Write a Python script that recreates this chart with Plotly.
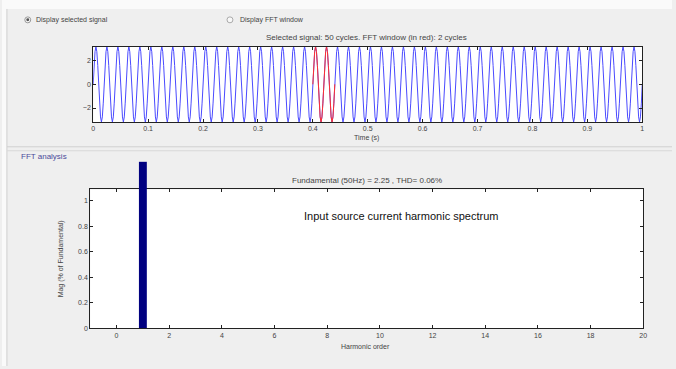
import numpy as np
import plotly.graph_objects as go

W, H = 676, 369

# ---------------- data ----------------
# One cycle of the selected signal (peak = 2.25 A rms * sqrt(2) ~ 3.18), 12 samples per cycle
one_cycle = [0, 1.59, 2.75, 3.18, 2.75, 1.59, 0, -1.59, -2.75, -3.18, -2.75, -1.59]
n_cycles = 50
sim_time_s = 1.0
fft_window = [0.40, 0.44]          # 2 cycles, drawn in red

time_ticks = [0, 0.1, 0.2, 0.3, 0.4, 0.5, 0.6, 0.7, 0.8, 0.9, 1]
time_ticklabels = ["0", "0.1", "0.2", "0.3", "0.4", "0.5", "0.6", "0.7", "0.8", "0.9", "1"]
signal_yticks = [-2, 0, 2]

harmonic_order = list(range(0, 21))
# magnitude as displayed (fundamental bar runs off the top of the axes)
harmonic_mag = [0, 1.31] + [0] * 19
harm_ticks = [0, 2, 4, 6, 8, 10, 12, 14, 16, 18, 20]
mag_ticks = [0, 0.2, 0.4, 0.6, 0.8, 1]
mag_ticklabels = ["0", "0.2", "0.4", "0.6", "0.8", "1"]

title_top = "Selected signal: 50 cycles. FFT window (in red): 2 cycles"
title_bot = "Fundamental (50Hz) = 2.25 , THD= 0.06%"
inner_label = "Input source current harmonic spectrum"

# ---------------- build series ----------------
signal = np.append(np.tile(one_cycle, n_cycles), one_cycle[0])
t = np.linspace(0, sim_time_s, len(signal))
mask = (t >= fft_window[0] - 1e-9) & (t <= fft_window[1] + 1e-9)


def px(x):
    return x / W


def py(y):
    return 1 - y / H


fig = go.Figure()
fig.add_trace(go.Scatter(x=t, y=signal, mode="lines",
                         line=dict(color="#4a4aff", width=1), xaxis="x", yaxis="y",
                         hoverinfo="skip"))
fig.add_trace(go.Scatter(x=t[mask], y=signal[mask], mode="lines",
                         line=dict(color="#ff3030", width=1), xaxis="x", yaxis="y",
                         hoverinfo="skip"))
fig.add_trace(go.Bar(x=harmonic_order, y=harmonic_mag, width=0.3,
                     marker=dict(color="#000080", line=dict(width=0)),
                     xaxis="x2", yaxis="y3"))

tickfont = dict(family="Liberation Sans, Arial, sans-serif", size=7, color="#444")
axcommon = dict(showline=True, linecolor="#222", linewidth=1, mirror="ticks",
                ticks="inside", ticklen=3, tickcolor="#222", showgrid=False,
                zeroline=False, tickfont=tickfont)

top_x = [px(92), px(646)]
top_y = [py(123), py(47)]
bot_x = [px(89), px(647)]
bot_y = [py(331), py(191)]

fig.update_layout(
    width=W, height=H,
    margin=dict(l=0, r=0, t=0, b=0),
    paper_bgcolor="#efefef",
    plot_bgcolor="rgba(0,0,0,0)",
    showlegend=False,
    xaxis=dict(domain=top_x, range=[0, sim_time_s], anchor="y",
               tickvals=time_ticks, ticktext=time_ticklabels, **axcommon),
    yaxis=dict(domain=top_y, range=[-3.18, 3.18], anchor="x",
               tickvals=signal_yticks, **axcommon),
    xaxis2=dict(domain=bot_x, range=[-1, 20], anchor="y2",
                tickvals=harm_ticks, **axcommon),
    yaxis2=dict(domain=bot_y, range=[0, 1.09], anchor="x2",
                tickvals=mag_ticks, ticktext=mag_ticklabels, **axcommon),
    yaxis3=dict(domain=[py(331), py(163)], range=[0, 1.307], anchor="x2",
                visible=False),
)
# invisible trace to register x2/y2 subplot
fig.add_trace(go.Scatter(x=[None], y=[None], xaxis="x2", yaxis="y2", hoverinfo="skip"))

shapes = [
    # white strips at the very top/left (window edges)
    dict(type="rect", xref="paper", yref="paper", x0=0, x1=1, y0=py(9), y1=1,
         fillcolor="#fafafa", line=dict(width=0), layer="below"),
    dict(type="rect", xref="paper", yref="paper", x0=0, x1=px(4), y0=0, y1=1,
         fillcolor="#fafafa", line=dict(width=0), layer="below"),
    dict(type="line", xref="paper", yref="paper", x0=px(5), x1=px(5), y0=0, y1=py(9),
         line=dict(color="#d4d4d4", width=1)),
    # plot area backgrounds
    dict(type="rect", xref="paper", yref="paper", x0=top_x[0], x1=top_x[1], y0=top_y[0], y1=top_y[1],
         fillcolor="white", line=dict(width=0), layer="below"),
    dict(type="rect", xref="paper", yref="paper", x0=bot_x[0], x1=bot_x[1], y0=bot_y[0], y1=bot_y[1],
         fillcolor="white", line=dict(width=0), layer="below"),
    # panel separators
    dict(type="line", xref="paper", yref="paper", x0=px(5), x1=1, y0=py(148), y1=py(148),
         line=dict(color="#d0d0d0", width=1)),
    dict(type="line", xref="paper", yref="paper", x0=px(5), x1=1, y0=py(152), y1=py(152),
         line=dict(color="#d8d8d8", width=1)),
    # radio buttons
    dict(type="circle", xref="paper", yref="paper", x0=px(23), x1=px(29), y0=py(23), y1=py(17),
         fillcolor="#f8f8f8", line=dict(color="#999", width=1)),
    dict(type="circle", xref="paper", yref="paper", x0=px(24.5), x1=px(27.5), y0=py(21.5), y1=py(18.5),
         fillcolor="#555", line=dict(width=0)),
    dict(type="circle", xref="paper", yref="paper", x0=px(227), x1=px(233), y0=py(23), y1=py(17),
         fillcolor="#f8f8f8", line=dict(color="#aaa", width=1)),
]
fig.update_layout(shapes=shapes)

txt = dict(family="Liberation Sans, Arial, sans-serif", size=8, color="#444")


def ann(x, y, text, size=8, color="#444", xanchor="center", angle=0):
    fig.add_annotation(x=px(x), y=py(y), xref="paper", yref="paper", text=text,
                       showarrow=False, xanchor=xanchor, yanchor="middle", textangle=angle,
                       font=dict(family="Liberation Sans, Arial, sans-serif", size=size, color=color))


ann(32, 20, "Display selected signal", size=7, xanchor="left")
ann(238, 20, "Display FFT window", size=7, xanchor="left")
ann(368, 38, title_top, size=8)
ann(368, 139, "Time (s)", size=7)
ann(17, 158, "FFT analysis", size=8, color="#4b4b9a", xanchor="left")
ann(368, 182, title_bot, size=8)
ann(403, 218, inner_label, size=11, color="#111")
ann(367, 349, "Harmonic order", size=7)
ann(59, 261, "Mag (% of Fundamental)", size=7, angle=-90)

fig.write_html("out.html")
